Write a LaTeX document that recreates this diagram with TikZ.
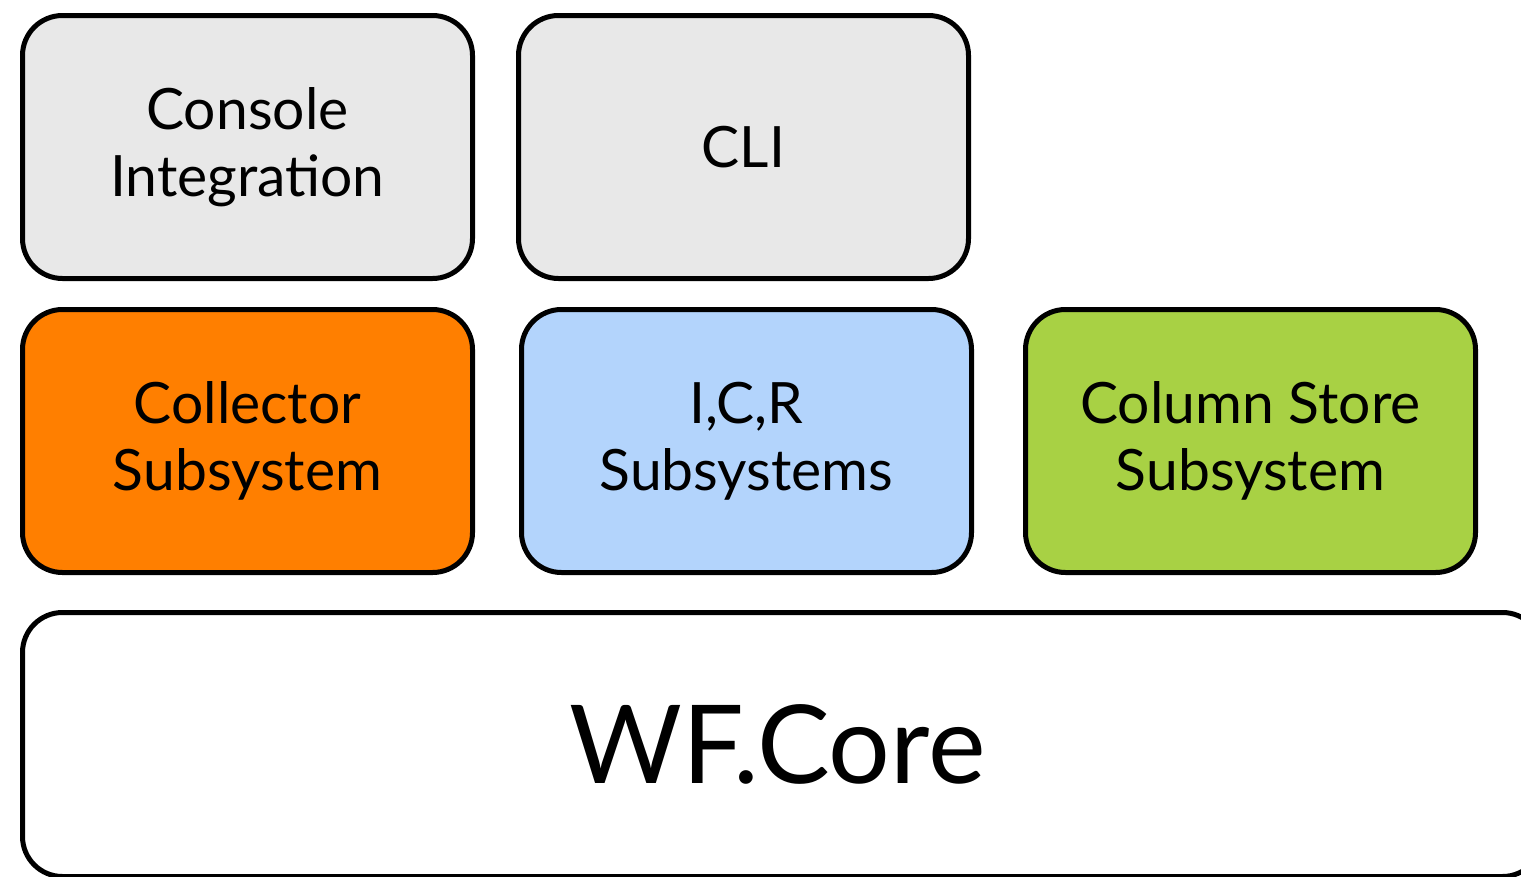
\documentclass[tikz,border=0pt]{standalone}
\usepackage{fontspec}
\setmainfont{Lato}
\usetikzlibrary{positioning}

\definecolor{layergray}{HTML}{E8E8E8}
\definecolor{layerorange}{HTML}{FF7F00}
\definecolor{layerblue}{HTML}{B3D4FC}
\definecolor{layergreen}{HTML}{A8D144}

\tikzset{
    layer/.style={draw, line width=5pt, rounded corners=40pt, align=center,
        minimum width=450pt, minimum height=263pt, inner sep=0pt,
        font=\fontsize{57}{67}\selectfont}
}

\begin{document}
\begin{tikzpicture}[x=1pt, y=-1pt, node distance=26pt and 41pt]
        \useasboundingbox (0,0) rectangle (1521,876);
        \clip (0,0) rectangle (1521,876);

        % top row
        \node[layer, fill=layergray] (console) at (247.5,147) {Console\\Integration};
        \node[layer, fill=layergray, right=of console] (cli) {CLI};

        % subsystems
        \node[layer, fill=layerorange, below=of console] (collector) {Collector\\Subsystem};
        \node[layer, fill=layerblue, right=44pt of collector] (icr) {I,C,R\\Subsystems};
        \node[layer, fill=layergreen, right=49pt of icr] (colstore) {Column Store\\Subsystem};

        % core, runs off the right and bottom edges
        \node[layer, fill=white, minimum width=1520pt, minimum height=264pt,
            font=\fontsize{109}{120}\selectfont,
            below=35pt of collector.south west, anchor=north west] (core) {\hspace*{-10pt}WF.Core};
    \end{tikzpicture}
\end{document}
